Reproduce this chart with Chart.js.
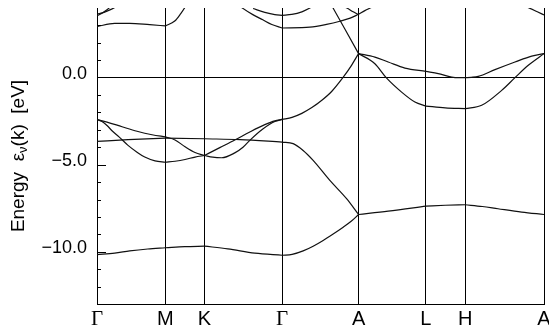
<!DOCTYPE html>
<html lang="en">

<head>
    <meta charset="UTF-8">
    <title>Band structure</title>
    <script src="https://cdn.jsdelivr.net/npm/chart.js"></script>
    <style>
        body {
            margin: 0;
            background: #fff;
        }

        canvas {
            display: block;
        }
    </style>
</head>

<body>
    <canvas id="bands" width="549" height="328"></canvas>

    <script>
        // high symmetry points along the k path
        const kPos = [0, 0.684, 1.074, 1.850, 2.614, 3.287, 3.680, 4.467];
        const kLabels = ['Γ', 'M', 'K', 'Γ', 'A', 'L', 'H', 'A'];

        const energyMin = -13;
        const energyMax = 4;

        // bands, as [k, energy in eV]
        const band1 = [[0, -10.16], [0.177, -10.08], [0.327, -9.95], [0.507, -9.84], [0.684, -9.77],
            [0.877, -9.71], [1.074, -9.68], [1.307, -9.83], [1.577, -10.08], [1.850, -10.20],
            [1.95, -10.15], [2.06, -9.95], [2.16, -9.68], [2.26, -9.35], [2.36, -8.98], [2.46, -8.59], [2.54, -8.25], [2.614, -7.86],
            [2.91, -7.67], [3.287, -7.38], [3.48, -7.33], [3.680, -7.30], [3.85, -7.40], [4.007, -7.53], [4.244, -7.72], [4.467, -7.86]];
        const band2 = [[0, -3.66], [0.31, -3.56], [0.684, -3.47], [1.074, -3.51], [1.43, -3.56], [1.850, -3.70],
            [1.96, -3.79], [2.06, -4.18], [2.16, -4.75], [2.327, -5.90], [2.494, -6.95], [2.614, -7.86]];
        const band3 = [[0, -2.41], [0.10, -2.55], [0.25, -2.82], [0.40, -3.08], [0.55, -3.28], [0.684, -3.40],
            [0.78, -3.58], [0.88, -3.97], [0.98, -4.30], [1.074, -4.47],
            [1.227, -4.02], [1.377, -3.58], [1.527, -3.12], [1.677, -2.70], [1.777, -2.48], [1.850, -2.40],
            [1.949, -2.28], [2.047, -2.05], [2.147, -1.72], [2.247, -1.30], [2.347, -0.78], [2.457, 0.0], [2.537, 0.65], [2.614, 1.38],
            [2.777, 0.80], [2.89, 0.0], [3.044, -0.83], [3.177, -1.40], [3.287, -1.63],
            [3.48, -1.74], [3.680, -1.78], [3.844, -1.59], [4.044, -0.73], [4.177, 0.0], [4.31, 0.71], [4.467, 1.38]];
        const band4a = [[0, -2.41], [0.05, -2.52], [0.10, -2.75], [0.15, -3.05], [0.22, -3.40], [0.31, -3.89], [0.40, -4.28],
            [0.477, -4.56], [0.58, -4.78], [0.684, -4.86],
            [0.78, -4.80], [0.88, -4.70], [0.98, -4.56], [1.074, -4.47],
            [1.157, -4.57], [1.247, -4.60], [1.377, -4.32], [1.459, -4.00], [1.527, -3.60], [1.657, -2.95], [1.777, -2.52], [1.850, -2.40]];
        const band4b = [[2.614, 1.38], [2.777, 1.18], [2.91, 0.90], [3.077, 0.55], [3.287, 0.36],
            [3.41, 0.23], [3.544, 0.03], [3.62, 0.0], [3.680, 0.0],
            [3.74, 0.02], [3.81, 0.07], [3.977, 0.46], [4.177, 0.90], [4.344, 1.24], [4.467, 1.38]];
        const band5 = [[0, 2.93], [0.177, 3.12], [0.327, 3.12], [0.527, 3.04], [0.684, 2.97],
            [0.777, 3.25], [0.837, 3.68], [0.877, 4.02], [0.91, 4.35]];
        const band6 = [[0, 3.55], [0.05, 3.70], [0.10, 3.90], [0.15, 4.15]];
        const band7 = [[0, 3.65], [0.07, 3.75], [0.14, 3.92], [0.20, 4.10]];
        const band8 = [[1.41, 4.20], [1.457, 3.98], [1.557, 3.62], [1.657, 3.32], [1.747, 3.05], [1.850, 2.85],
            [2.127, 2.90], [2.294, 3.06], [2.427, 3.24], [2.53, 3.42], [2.614, 3.64],
            [2.677, 3.85], [2.747, 4.05], [2.827, 4.30]];
        const band9 = [[1.56, 3.97], [1.677, 3.75], [1.777, 3.62], [1.850, 3.58],
            [1.947, 3.63], [2.047, 3.78], [2.127, 4.00], [2.18, 4.20]];
        const band10 = [[2.34, 4.20], [2.477, 2.79], [2.614, 1.38]];
        const band11 = [[2.43, 4.15], [2.497, 4.00], [2.56, 3.78], [2.614, 3.62]];
        const band12 = [[4.277, 4.10], [4.327, 3.98], [4.40, 3.78], [4.467, 3.60]];

        const bands = [band1, band2, band3, band4a, band4b, band5, band6, band7, band8, band9, band10, band11, band12];

        // one dataset per band per path segment so kinks at the symmetry points stay sharp
        const datasets = [];
        bands.forEach(band => {
            for (let i = 0; i < kPos.length - 1; i++) {
                const seg = band.filter(p => p[0] >= kPos[i] - 1e-6 && p[0] <= kPos[i + 1] + 1e-6);
                if (seg.length < 2) continue;
                datasets.push({
                    data: seg.map(p => ({ x: p[0], y: p[1] })),
                    borderColor: '#111',
                    borderWidth: 1.2,
                    pointRadius: 0,
                    cubicInterpolationMode: 'monotone',
                    clip: 0
                });
            }
        });

        const sans = '"Liberation Sans", Arial, sans-serif';

        function energyLabel(v) {
            if (v % 5 !== 0) return '';
            if (v === 0) return '0.0';
            return (v < 0 ? '\u2212' : '') + Math.abs(v).toFixed(1);
        }

        // y title with subscript and inner tick marks
        const decorations = {
            id: 'decorations',
            afterDraw(chart) {
                const c = chart.ctx;
                const y = chart.scales.y;
                const left = chart.chartArea.left;

                c.save();
                c.strokeStyle = '#000';
                c.lineWidth = 1;
                y.ticks.forEach(t => {
                    if (t.value === 0 || t.value >= energyMax) return;
                    const py = Math.round(y.getPixelForValue(t.value)) + 0.5;
                    const len = t.value % 5 === 0 ? 9 : 4;
                    c.beginPath();
                    c.moveTo(left, py);
                    c.lineTo(left + len, py);
                    c.stroke();
                });
                c.restore();

                c.save();
                c.translate(19, 156);
                c.rotate(-Math.PI / 2);
                c.fillStyle = '#000';
                c.textBaseline = 'middle';
                const big = '19px ' + sans;
                const small = '13px ' + sans;
                const a = 'Energy  ε', b = 'ν', d = '(k)  [eV]';
                c.font = big;
                const wa = c.measureText(a).width;
                const wd = c.measureText(d).width;
                c.font = small;
                const wb = c.measureText(b).width;
                let x = -(wa + wb + wd) / 2;
                c.font = big;
                c.fillText(a, x, 0);
                x += wa;
                c.font = small;
                c.fillText(b, x, 4);
                x += wb;
                c.font = big;
                c.fillText(d, x, 0);
                c.restore();
            }
        };

        new Chart(document.getElementById('bands'), {
            type: 'line',
            data: { datasets: datasets },
            options: {
                responsive: false,
                animation: false,
                layout: { padding: { top: 8, right: 5, bottom: 0, left: 0 } },
                plugins: {
                    legend: { display: false },
                    tooltip: { enabled: false }
                },
                scales: {
                    x: {
                        type: 'linear',
                        min: kPos[0],
                        max: kPos[kPos.length - 1],
                        afterBuildTicks: scale => {
                            scale.ticks = kPos.map(v => ({ value: v }));
                        },
                        afterFit: scale => {
                            scale.height = 24;
                            scale.paddingLeft = 0;
                            scale.paddingRight = 0;
                        },
                        grid: { color: '#000', lineWidth: 1, drawTicks: false },
                        border: { display: true, color: '#000', width: 1 },
                        ticks: {
                            autoSkip: false,
                            maxRotation: 0,
                            padding: 3,
                            color: '#000',
                            font: ctx => kLabels[ctx.index] === 'Γ'
                                ? { family: '"Liberation Serif", "Times New Roman", serif', size: 21 }
                                : { family: sans, size: 20 },
                            callback: (v, i) => kLabels[i]
                        }
                    },
                    y: {
                        min: energyMin,
                        max: energyMax,
                        afterFit: scale => {
                            scale.width = 97;
                            scale.paddingTop = 0;
                            scale.paddingBottom = 0;
                        },
                        grid: {
                            drawTicks: false,
                            lineWidth: 1,
                            color: ctx => ctx.tick && ctx.tick.value === 0 ? '#000' : 'rgba(0,0,0,0)'
                        },
                        border: { display: true, color: '#000', width: 1 },
                        ticks: {
                            stepSize: 1,
                            autoSkip: false,
                            padding: 10,
                            labelOffset: -4,
                            color: '#000',
                            font: { family: sans, size: 18 },
                            callback: v => energyLabel(v)
                        }
                    }
                }
            },
            plugins: [decorations]
        });
    </script>
</body>

</html>
